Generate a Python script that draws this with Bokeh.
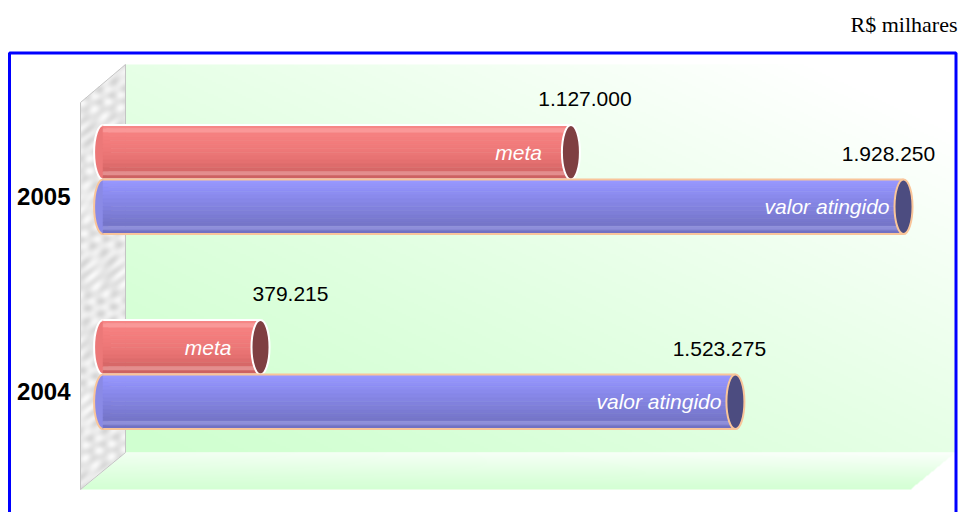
import numpy as np
from bokeh.plotting import figure
from bokeh.models import Range1d, ColumnDataSource
from bokeh.core.properties import value
from bokeh.embed import file_html
from bokeh.resources import INLINE

# ---------------- data ----------------
categories = ["2005", "2004"]
series_names = ["meta", "valor atingido"]
meta = [1127000, 379215]
valor_atingido = [1928250, 1523275]
unit_title = "R$ milhares"

# per-label horizontal nudges of the value labels (px), style only
value_label_dx = {"meta": [14, 30], "valor atingido": [-15, -16]}

# ---------------- layout / scale ----------------
W, H = 961, 512
OFF = 8                      # page margin
K = 643.0 / 1549035.0        # px per value unit
ZERO_REF = 110.6             # page-x of value 0
CAT_STEP = 195.0             # px per category
BASE_REF = 382.0             # page-y of category position 0


def fx(rx):
    return (rx - ZERO_REF) / K


def fy(ry):
    return (BASE_REF - ry) / CAT_STEP


p = figure(width=W, height=H, output_backend="svg", toolbar_location=None,
           x_range=Range1d(fx(OFF), fx(OFF + W)),
           y_range=Range1d(fy(OFF + H), fy(OFF)),
           min_border=0, x_axis_location=None, y_axis_location=None)
p.outline_line_color = None
p.grid.grid_line_color = None
p.background_fill_color = "white"
p.border_fill_color = "white"


def rgba_image(h, w):
    img = np.zeros((h, w), dtype=np.uint32)
    view = img.view(dtype=np.uint8).reshape((h, w, 4))
    return img, view


# ---------------- back wall (diagonal green gradient) ----------------
bx0, bx1, by0, by1 = 133, 963, 72, 460
bw, bh = (bx1 - bx0) // 2, (by1 - by0) // 2
img, v = rgba_image(bh, bw)
u = np.linspace(0, 1, bw)[None, :]
t = np.linspace(1, 0, bh)[:, None]           # row 0 = bottom -> t=1 (bottom)
wgt = np.clip(0.55 * u + 0.55 * (1 - t), 0, 1) ** 1.25
c = (208 + 47 * wgt).astype(np.uint8)
v[:, :, 0] = c
v[:, :, 1] = 255
v[:, :, 2] = c
v[:, :, 3] = 255
p.image_rgba(image=[img], x=fx(bx0), y=fy(by1), dw=fx(bx1) - fx(bx0), dh=fy(by0) - fy(by1))

# ---------------- floor ----------------
fx0, fx1, fy0, fy1 = 88, 963, 460, 497
fw, fh = fx1 - fx0, fy1 - fy0
img, v = rgba_image(fh, fw)
xs = np.arange(fw)[None, :] + fx0 + 0.5
ys = (fy1 - 0.5 - np.arange(fh))[:, None]
xl = 133 - 45 * (ys - fy0) / 37.0
xr = 963 - 45 * (ys - fy0) / 37.0
mask = (xs >= xl) & (xs <= xr)
tt = (ys - fy0) / 37.0
uu = (xs - fx0) / fw
cc = 212 + 40 * (1 - tt) ** 1.1 * (0.75 + 0.25 * uu)
cc = np.clip(cc, 0, 255).astype(np.uint8)
v[:, :, 0] = cc
v[:, :, 1] = 255
v[:, :, 2] = cc
v[:, :, 3] = np.where(mask, 255, 0).astype(np.uint8)
p.image_rgba(image=[img], x=fx(fx0), y=fy(fy1), dw=fx(fx1) - fx(fx0), dh=fy(fy0) - fy(fy1))

# ---------------- side wall (grey marble) ----------------
sx0, sx1, sy0, sy1 = 88, 133, 72, 497
sw, sh = sx1 - sx0, sy1 - sy0
img, v = rgba_image(sh, sw)
xs = np.arange(sw)[None, :] + sx0 + 0.5
ys = (sy1 - 0.5 - np.arange(sh))[:, None]
ytop = 110 - (xs - 88) * 38 / 45.0
ybot = 497 - (xs - 88) * 37 / 45.0
mask = (ys >= ytop) & (ys <= ybot)
pat = (np.sin(xs * 0.35 + 3 * np.sin(ys * 0.09)) * np.cos(ys * 0.21 + xs * 0.13)
       + 0.5 * np.sin(ys * 0.53 + xs * 0.27))
g = np.clip(232 + 12 * pat, 0, 255).astype(np.uint8)
v[:, :, 0] = g
v[:, :, 1] = g
v[:, :, 2] = g
v[:, :, 3] = np.where(mask, 255, 0).astype(np.uint8)
p.image_rgba(image=[img], x=fx(sx0), y=fy(sy1), dw=fx(sx1) - fx(sx0), dh=fy(sy0) - fy(sy1))
p.patch(x=[fx(88), fx(133), fx(133), fx(88)], y=[fy(110), fy(72), fy(460), fy(497)],
        fill_color=None, line_color="#c4c4c4", line_width=1)

# ---------------- border ----------------
p.line(x=[fx(17), fx(17), fx(963.5), fx(963.5)], y=[fy(560), fy(60.5), fy(60.5), fy(560)],
       line_color="#0000ff", line_width=3)

# ---------------- cylinders ----------------
BAR_H = 0.28
CAP_W = 18
cat_pos = {c: len(categories) - 1 - i for i, c in enumerate(categories)}

styles = {
    "meta": dict(
        profile=[(246, 134, 134), (250, 152, 152), (245, 128, 128), (244, 126, 126),
                 (242, 124, 124), (240, 122, 122), (238, 120, 120), (235, 118, 118),
                 (232, 115, 115), (228, 112, 112), (222, 108, 108), (215, 104, 104),
                 (228, 142, 142), (205, 98, 98)],
        mid="#ec7878", cap="#7f3f42", outline="white", dy=BAR_H / 2, inner_dx=-29),
    "valor atingido": dict(
        profile=[(152, 152, 255), (148, 148, 250), (144, 144, 246), (141, 141, 241),
                 (138, 138, 236), (135, 135, 231), (132, 132, 226), (129, 129, 221),
                 (126, 126, 216), (123, 123, 211), (120, 120, 206), (117, 117, 201),
                 (142, 142, 218), (113, 113, 196)],
        mid="#8a8ae6", cap="#4c4c80", outline="#f9c59a", dy=-BAR_H / 2, inner_dx=-14),
}
values = {"meta": meta, "valor atingido": valor_atingido}

for name in series_names:
    st = styles[name]
    vals = values[name]
    centers = [cat_pos[c] + st["dy"] for c in categories]
    ns = len(st["profile"])
    # left end (back of cylinder)
    p.ellipse(x=[0] * len(vals), y=centers, width=CAP_W, width_units="screen",
              height=BAR_H, fill_color=st["mid"], line_color=st["outline"], line_width=2)
    # body stripes
    sy, sl, sr, sc = [], [], [], []
    for val, cy in zip(vals, centers):
        for i, col in enumerate(st["profile"]):
            sy.append(cy + BAR_H / 2 - (i + 0.5) * BAR_H / ns)
            sl.append(0)
            sr.append(val)
            sc.append("#%02x%02x%02x" % col)
    src = ColumnDataSource(dict(y=sy, left=sl, right=sr, color=sc))
    p.hbar(y="y", left="left", right="right", height=BAR_H / ns * 1.02, source=src,
           fill_color="color", line_color="color", line_width=0.6)
    # top / bottom outline
    p.segment(x0=[0] * len(vals) * 2, x1=list(vals) * 2,
              y0=[c + BAR_H / 2 for c in centers] + [c - BAR_H / 2 for c in centers],
              y1=[c + BAR_H / 2 for c in centers] + [c - BAR_H / 2 for c in centers],
              line_color=st["outline"], line_width=2)
    # front cap
    p.ellipse(x=vals, y=centers, width=CAP_W, width_units="screen", height=BAR_H,
              fill_color=st["cap"], line_color=st["outline"], line_width=2)
    # inner series label
    p.text(x=vals, y=centers, text=[name] * len(vals), x_offset=st["inner_dx"],
           text_align="right", text_baseline="middle", text_color="white",
           text_font=value("Liberation Sans"), text_font_style="italic",
           text_font_size="21px")
    # value labels
    p.text(x=vals, y=centers, text=[f"{x:,}".replace(",", ".") for x in vals],
           x_offset=value_label_dx[name], y_offset=-53,
           text_align="center", text_baseline="middle", text_color="black",
           text_font=value("Liberation Sans"), text_font_size="21px")

# ---------------- category labels ----------------
p.text(x=[fx(78)] * len(categories), y=[cat_pos[c] - 17 / CAT_STEP for c in categories],
       text=categories, text_align="right", text_baseline="middle", text_color="black",
       text_font=value("Liberation Sans"), text_font_style="bold", text_font_size="24px")

# ---------------- unit title ----------------
p.text(x=[fx(965)], y=[fy(32)], text=[unit_title], text_align="right",
       text_baseline="alphabetic", text_color="black",
       text_font=value("Liberation Serif"), text_font_size="22px")

open("out.html", "w").write(file_html(p, INLINE))
